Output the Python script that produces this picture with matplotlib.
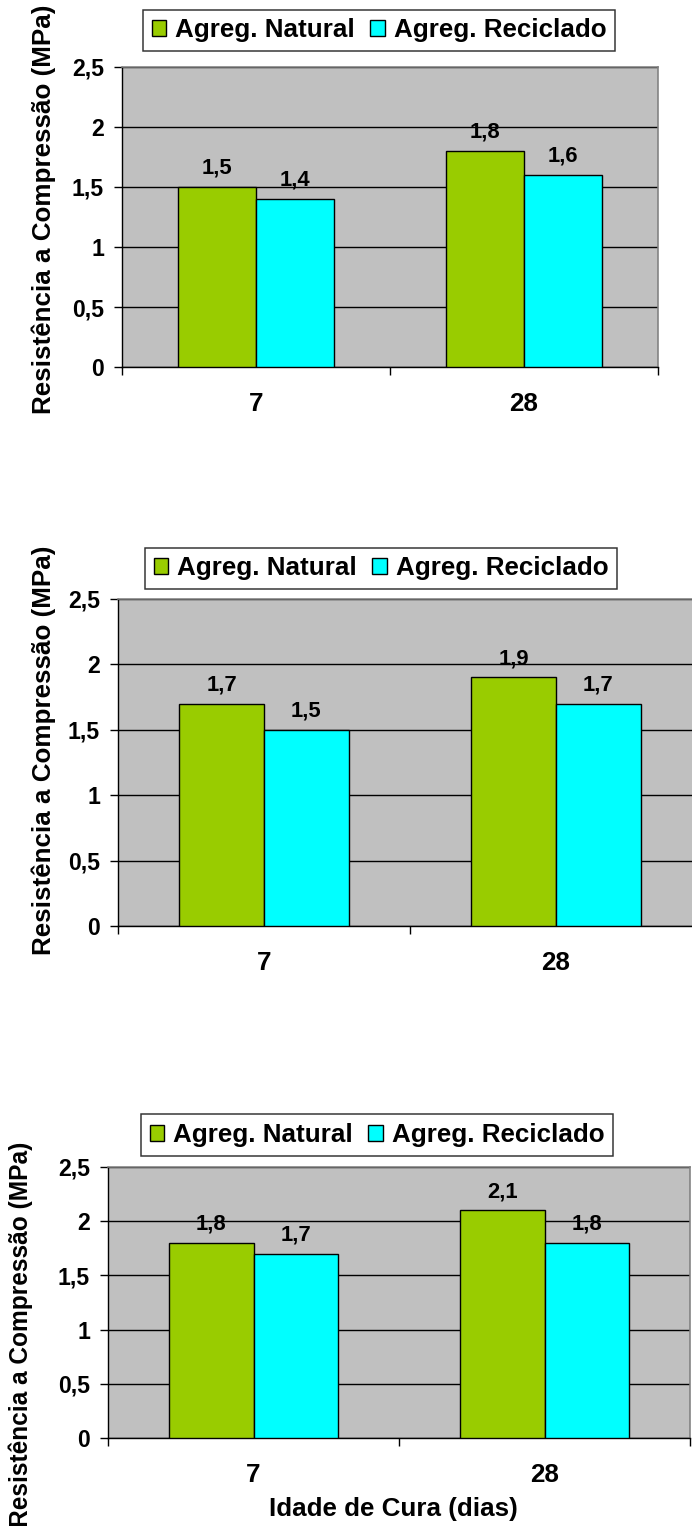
import matplotlib
matplotlib.use("Agg")
import matplotlib.pyplot as plt
import numpy as np
from matplotlib.ticker import FixedLocator, FuncFormatter

plt.rcParams['font.family'] = ['Liberation Sans', 'DejaVu Sans']
plt.rcParams['font.weight'] = 'bold'

# Data
categories = ['7', '28']
series_names = ['Agreg. Natural', 'Agreg. Reciclado']
natural_p1 = [1.5, 1.8]
reciclado_p1 = [1.4, 1.6]
natural_p2 = [1.7, 1.9]
reciclado_p2 = [1.5, 1.7]
natural_p3 = [1.8, 2.1]
reciclado_p3 = [1.7, 1.8]
y_ticks = [0, 0.5, 1, 1.5, 2, 2.5]

ylabel_text = 'Resistência a Compressão (MPa)'
xlabel_text = 'Idade de Cura (dias)'

colors = ['#99CC00', '#00FFFF']
W, H = 692, 1526
fig = plt.figure(figsize=(W / 72, H / 72), dpi=72)


def fx(px):
    return px / W


def fy(py):
    return 1 - py / H


def comma(v, pos=None):
    return f"{v:g}".replace('.', ',')


# layout in pixels: (left, right, top, bottom), legend centre,
# ylabel centre and size
panels = [
    dict(box=(122, 658, 67, 367), legend=(379, 30.5), ylab=(44, 209, 26),
         series=(natural_p1, reciclado_p1)),
    dict(box=(118, 702, 599, 926), legend=(381, 568.5), ylab=(44, 750, 26),
         series=(natural_p2, reciclado_p2)),
    dict(box=(108, 690, 1167, 1438), legend=(377, 1135), ylab=(21, 1334, 24.5),
         series=(natural_p3, reciclado_p3)),
]

bar_w = 0.29
x = np.arange(len(categories))

for p in panels:
    l, r, t, b = p['box']
    ax = fig.add_axes([fx(l), fy(b), (r - l) / W, (b - t) / H])
    ax.set_facecolor('#C0C0C0')
    handles = []
    for i, vals in enumerate(p['series']):
        offs = (i - 0.5) * bar_w
        bars = ax.bar(x + offs, vals, width=bar_w, color=colors[i],
                      edgecolor='black', linewidth=1.4, label=series_names[i],
                      zorder=3)
        handles.append(bars)
        for xi, v in zip(x + offs, vals):
            ax.annotate(comma(v), (xi, v), xytext=(0, 8),
                        textcoords='offset points', ha='center', va='bottom',
                        fontsize=22, fontweight='bold', color='black')
    ax.set_xlim(-0.5, 1.5)
    ax.set_ylim(0, 2.5)
    ax.set_axisbelow(True)
    ax.yaxis.set_major_locator(FixedLocator(y_ticks))
    ax.yaxis.set_major_formatter(FuncFormatter(comma))
    ax.grid(axis='y', color='black', linewidth=1.4)
    ax.tick_params(axis='y', direction='out', length=8, width=1.4,
                   pad=10, labelsize=23, colors='black')
    # x: boundary ticks without labels, category labels in between
    ax.xaxis.set_major_locator(FixedLocator([-0.5, 0.5, 1.5]))
    ax.xaxis.set_major_formatter(FuncFormatter(lambda v, pos: ''))
    ax.xaxis.set_minor_locator(FixedLocator(x))
    ax.xaxis.set_minor_formatter(FuncFormatter(lambda v, pos: categories[int(round(v))]))
    ax.tick_params(axis='x', which='major', direction='out', length=8,
                   width=1.4, colors='black')
    ax.tick_params(axis='x', which='minor', length=0, pad=25, labelsize=26)
    for lab in ax.get_xticklabels(minor=True) + ax.get_yticklabels():
        lab.set_fontweight('bold')
    for s in ('left', 'bottom'):
        ax.spines[s].set_color('black')
        ax.spines[s].set_linewidth(1.4)
    for s in ('top', 'right'):
        ax.spines[s].set_color('#808080')
        ax.spines[s].set_linewidth(1.6)

    lx, ly = p['legend']
    leg = fig.legend(handles=handles, labels=series_names, loc='center',
                     bbox_to_anchor=(fx(lx), fy(ly)), ncol=2, fontsize=26,
                     frameon=True, fancybox=False, shadow=False,
                     handlelength=0.55, handleheight=0.55, handletextpad=0.35,
                     columnspacing=0.6, borderpad=0.33, borderaxespad=0)
    leg.get_frame().set_edgecolor('black')
    leg.get_frame().set_linewidth(1.5)
    for txt in leg.get_texts():
        txt.set_fontweight('bold')

    yx, yy, ys = p['ylab']
    fig.text(fx(yx), fy(yy), ylabel_text, rotation=90, ha='center',
             va='center', fontsize=ys, fontweight='bold')

fig.text(fx(393), fy(1509), xlabel_text, ha='center', va='center',
         fontsize=26, fontweight='bold')

fig.savefig('out.png', dpi=72, facecolor='white')
